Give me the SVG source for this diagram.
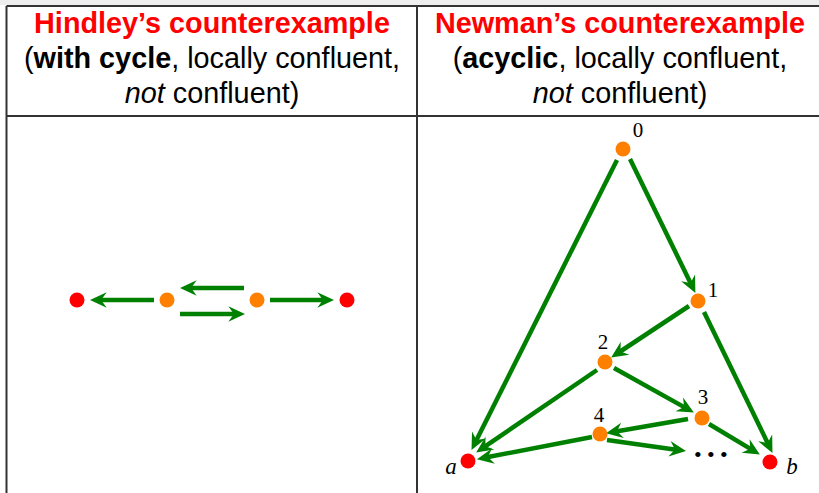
<svg xmlns="http://www.w3.org/2000/svg" width="819" height="493" viewBox="0 0 819 493">
<style>
.grid{stroke:#333;stroke-width:2;fill:none}
.hd{font-family:"Liberation Sans",Arial,sans-serif;font-size:28.8px;text-anchor:middle;fill:#000}
.red{fill:#ff0000;font-weight:bold}
.edge{stroke:#008000;stroke-width:4.5;fill:none;marker-end:url(#ah)}
.rn{fill:#ff0000}
.on{fill:#ff8000}
.lb{font-family:"Liberation Serif","Times New Roman",serif;font-size:21px;text-anchor:middle;fill:#000}
.it{font-style:italic;font-size:23px}
</style>
<defs>
<marker id="ah" markerUnits="userSpaceOnUse" markerWidth="20" markerHeight="20" viewBox="-1 -8 18 16" refX="6" refY="0" orient="auto">
<path d="M0,-7 L15,0 L0,7 L5,0 Z" fill="#008000"/>
</marker>
</defs>
<rect x="0" y="0" width="819" height="493" fill="#ffffff"/>
<rect x="0" y="0" width="819" height="5" fill="#eeeeee"/>
<g id="table">
<line class="grid" x1="6.5" y1="6" x2="819" y2="6"/>
<line class="grid" x1="6.5" y1="6" x2="6.5" y2="493"/>
<line class="grid" x1="417" y1="6" x2="417" y2="493"/>
<line class="grid" x1="6.5" y1="116" x2="819" y2="116"/>
</g>
<g id="header-left">
<text class="hd red" x="212" y="33">Hindley’s counterexample</text>
<text class="hd" x="212" y="68">(<tspan font-weight="bold">with cycle</tspan>, locally confluent,</text>
<text class="hd" x="212" y="103"><tspan font-style="italic">not</tspan> confluent)</text>
</g>
<g id="header-right">
<text class="hd red" x="620" y="33">Newman’s counterexample</text>
<text class="hd" x="620" y="68">(<tspan font-weight="bold">acyclic</tspan>, locally confluent,</text>
<text class="hd" x="620" y="103"><tspan font-style="italic">not</tspan> confluent)</text>
</g>
<g id="connectors">
<line class="edge" x1="154" y1="300" x2="100" y2="300"/>
<line class="edge" x1="244" y1="288" x2="190" y2="288"/>
<line class="edge" x1="180" y1="314" x2="235" y2="314"/>
<line class="edge" x1="270" y1="300" x2="324" y2="300"/>
<line class="edge" x1="617" y1="160" x2="476" y2="441"/>
<line class="edge" x1="630" y1="159" x2="691" y2="283.9"/>
<line class="edge" x1="689" y1="306" x2="619.5" y2="352"/>
<line class="edge" x1="704" y1="312" x2="768.1" y2="443.9"/>
<line class="edge" x1="597" y1="370" x2="484.4" y2="446.9"/>
<line class="edge" x1="614" y1="368" x2="685.1" y2="407.6"/>
<line class="edge" x1="688" y1="419" x2="615.9" y2="431.5"/>
<line class="edge" x1="709" y1="424" x2="751.3" y2="449.4"/>
<line class="edge" x1="592" y1="437" x2="486.8" y2="457.3"/>
<line class="edge" x1="607" y1="440" x2="676.1" y2="449.7"/>
</g>
<g id="h-r1"><circle class="rn" cx="77" cy="300" r="7.5"/></g>
<g id="h-o1"><circle class="on" cx="167" cy="300" r="7.5"/></g>
<g id="h-o2"><circle class="on" cx="257" cy="300" r="7.5"/></g>
<g id="h-r2"><circle class="rn" cx="347" cy="300" r="7.5"/></g>
<g id="n0"><circle class="on" cx="623" cy="149" r="7.5"/><text class="lb" x="638" y="137">0</text></g>
<g id="n1"><circle class="on" cx="698" cy="301" r="7.5"/><text class="lb" x="713" y="297">1</text></g>
<g id="n2"><circle class="on" cx="605" cy="362" r="7.5"/><text class="lb" x="603" y="349">2</text></g>
<g id="n3"><circle class="on" cx="702" cy="418" r="7.5"/><text class="lb" x="703" y="404">3</text></g>
<g id="n4"><circle class="on" cx="600" cy="434" r="7.5"/><text class="lb" x="599" y="422">4</text></g>
<g id="na"><circle class="rn" cx="468" cy="461" r="7.5"/><text class="lb it" x="451" y="474">a</text></g>
<g id="nb"><circle class="rn" cx="770" cy="462" r="7.5"/><text class="lb it" x="792" y="474">b</text></g>
<g id="ndots"><text x="694" y="461.5" font-family="Liberation Serif, serif" font-size="22" letter-spacing="5.3" fill="#000">•••</text></g>
</svg>
